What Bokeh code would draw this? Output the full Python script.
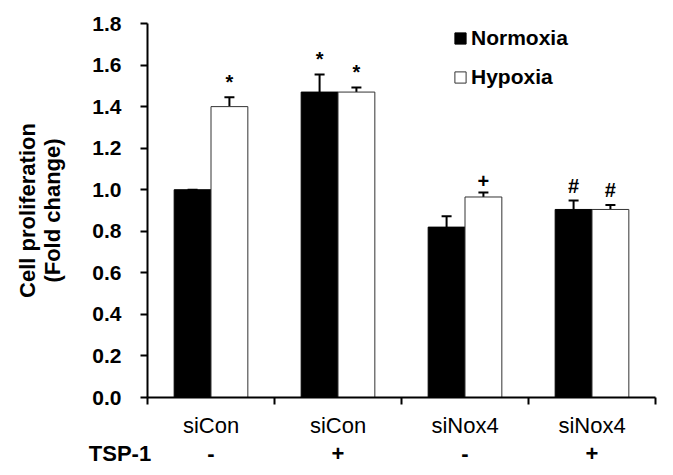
from bokeh.plotting import figure
from bokeh.models import (ColumnDataSource, Range1d, LinearAxis,
                          FixedTicker, NumeralTickFormatter, Whisker, TeeHead, Legend, LegendItem)
from bokeh.transform import dodge
from bokeh.core.properties import value
from bokeh.embed import file_html
from bokeh.resources import INLINE

# ---- data ----
conditions = ["siCon|-", "siCon|+", "siNox4|-", "siNox4|+"]
group_labels = ["siCon", "siCon", "siNox4", "siNox4"]
tsp_labels = ["-", "+", "-", "+"]
tsp_title = "TSP-1"
normoxia = [1.00, 1.47, 0.82, 0.905]
normoxia_err = [0.0, 0.085, 0.052, 0.043]
hypoxia = [1.40, 1.47, 0.965, 0.905]
hypoxia_err = [0.045, 0.022, 0.022, 0.022]
normoxia_sig = ["", "*", "", "#"]
hypoxia_sig = ["*", "*", "+", "#"]
y_ticks = [0.0, 0.2, 0.4, 0.6, 0.8, 1.0, 1.2, 1.4, 1.6, 1.8]

FONT = "Liberation Sans"

n = len(conditions)
centers = [i + 0.5 for i in range(n)]          # category slot centres
bounds = [float(i) for i in range(n + 1)]       # category slot boundaries
off = 0.145
bw = 0.29

src = ColumnDataSource(dict(
    cond=conditions, pos=centers,
    norm=normoxia, norm_up=[v + e for v, e in zip(normoxia, normoxia_err)],
    hyp=hypoxia, hyp_up=[v + e for v, e in zip(hypoxia, hypoxia_err)],
))

# significance marks (only the non-empty ones)
ann_x, ann_y, ann_t = [], [], []
for c, v, e, s in zip(centers, normoxia, normoxia_err, normoxia_sig):
    if s:
        ann_x.append(c - off); ann_y.append(v + e); ann_t.append(s)
for c, v, e, s in zip(centers, hypoxia, hypoxia_err, hypoxia_sig):
    if s:
        ann_x.append(c + off); ann_y.append(v + e); ann_t.append(s)
ann_src = ColumnDataSource(dict(x=ann_x, y=ann_y, t=ann_t))

p = figure(width=657, height=470, x_range=Range1d(0, n), y_range=Range1d(0, 1.8),
           output_backend="svg", toolbar_location=None, x_axis_location=None)
p.min_border_left = 147
p.min_border_right = 2
p.min_border_top = 23
p.min_border_bottom = 73
p.outline_line_color = None
p.xgrid.visible = False
p.ygrid.visible = False
p.background_fill_color = "white"

rn = p.vbar(x=dodge("pos", -off), top="norm", width=bw, source=src,
            fill_color="black", line_color="black", line_width=1)
rh = p.vbar(x=dodge("pos", off), top="hyp", width=bw, source=src,
            fill_color="white", line_color="#333333", line_width=1)

for col, up, o in [("norm", "norm_up", -off), ("hyp", "hyp_up", off)]:
    w = Whisker(base=dodge("pos", o), lower=col, upper=up, source=src,
                dimension="height", line_color="black", line_width=2,
                lower_head=None, upper_head=TeeHead(size=10, line_color="black", line_width=2))
    p.add_layout(w)

p.text(x="x", y="y", text="t", source=ann_src,
       text_align="center", text_baseline="bottom", y_offset=-4,
       text_font=value(FONT), text_font_size="20px", text_font_style="bold",
       text_color="black")

# y axis
ya = p.yaxis[0]
ya.ticker = FixedTicker(ticks=y_ticks)
ya.formatter = NumeralTickFormatter(format="0.0")
ya.major_label_text_font = FONT
ya.major_label_text_font_size = "21px"
ya.major_label_text_font_style = "bold"
ya.major_label_text_color = "black"
ya.major_tick_out = 7
ya.major_tick_in = 0
ya.minor_tick_out = 0
ya.minor_tick_in = 0
ya.major_label_standoff = 19
ya.axis_line_width = 2
ya.major_tick_line_width = 2
ya.axis_label = "Cell proliferation\n(Fold change)"
ya.axis_label_text_font = FONT
ya.axis_label_text_font_size = "22px"
ya.axis_label_text_font_style = "bold"
ya.axis_label_text_color = "black"
ya.axis_label_text_line_height = 1.0
ya.axis_label_standoff = 24

# x axis: line + boundary ticks (as minor ticks) + group labels at slot centres
ga = LinearAxis(ticker=FixedTicker(ticks=centers, minor_ticks=bounds),
                major_label_overrides={c: g for c, g in zip(centers, group_labels)},
                axis_line_width=2, major_tick_line_color=None,
                minor_tick_line_width=2, minor_tick_out=7, minor_tick_in=0,
                major_tick_out=7, major_tick_in=0,
                major_label_text_font=FONT, major_label_text_font_size="22px",
                major_label_text_color="black", major_label_standoff=8)
p.add_layout(ga, "below")

# TSP-1 row: the row title sits on the left edge tick, padded so it ends left of the frame
pad = "\u00a0" * 9
ta = LinearAxis(ticker=FixedTicker(ticks=[bounds[0]] + centers),
                major_label_overrides={**{bounds[0]: tsp_title + pad},
                                       **{c: t for c, t in zip(centers, tsp_labels)}},
                axis_line_color=None, major_tick_line_color=None, minor_tick_line_color=None,
                major_label_text_font=FONT, major_label_text_font_size="22px",
                major_label_text_font_style="bold",
                major_label_text_color="black", major_label_standoff=-6)
p.add_layout(ta, "below")

legend = Legend(items=[LegendItem(label="Normoxia", renderers=[rn]),
                       LegendItem(label="Hypoxia", renderers=[rh])],
                location=(306, 308), orientation="vertical",
                label_text_font=FONT, label_text_font_size="21px", label_text_font_style="bold",
                label_text_color="black", glyph_width=14, glyph_height=14, label_standoff=4,
                spacing=15, padding=0, margin=0, border_line_color=None,
                background_fill_alpha=0)
p.add_layout(legend)

open("out.html", "w").write(file_html(p, INLINE))
